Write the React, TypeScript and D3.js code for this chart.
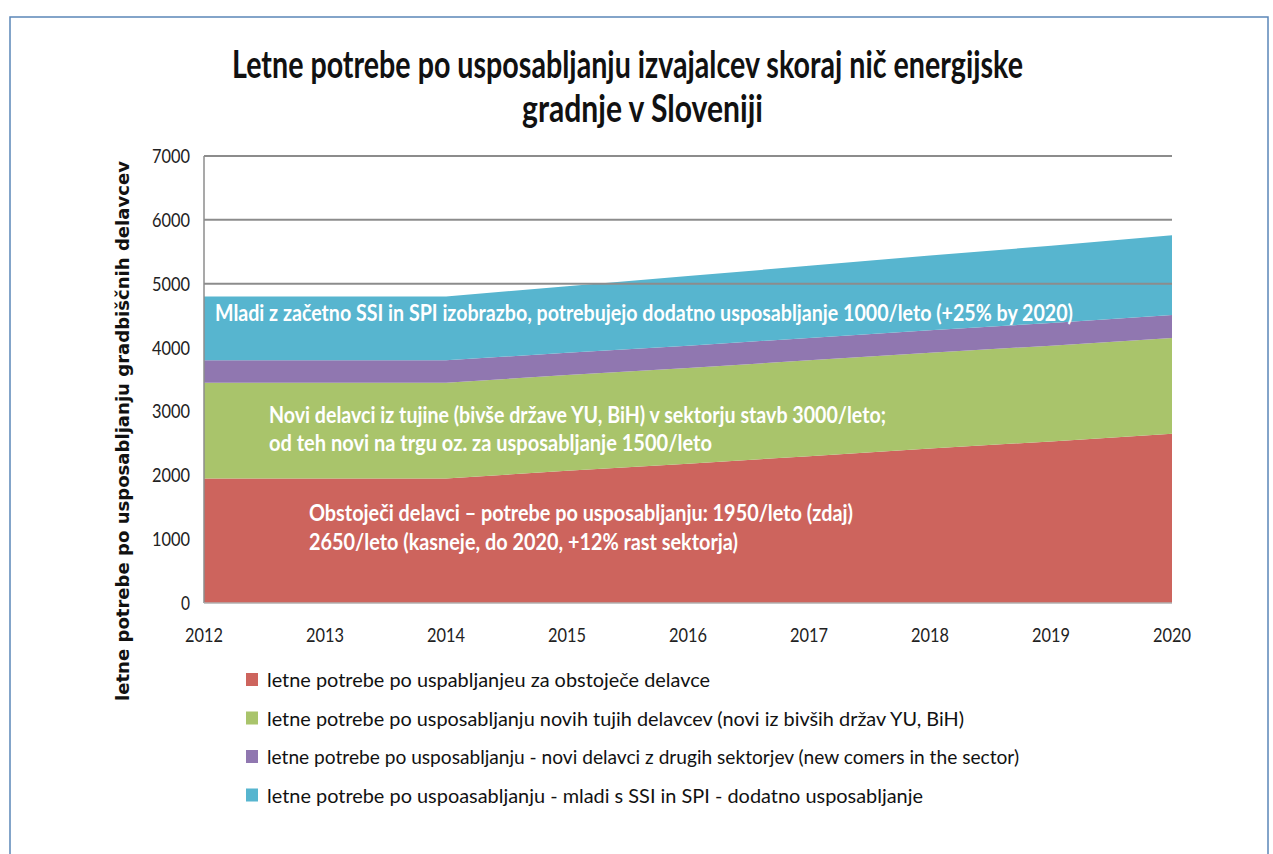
import React from "react";
import * as d3 from "d3";

const years = [2012, 2013, 2014, 2015, 2016, 2017, 2018, 2019, 2020];
const obstojeci = [1950, 1950, 1950, 2070, 2180, 2300, 2420, 2530, 2650];
const tujci = [1500, 1500, 1500, 1500, 1500, 1500, 1500, 1500, 1500];
const drugiSektorji = [350, 350, 350, 350, 350, 350, 350, 355, 360];
const mladi = [1000, 1000, 1000, 1040, 1090, 1130, 1170, 1210, 1250];
const yTicks = [0, 1000, 2000, 3000, 4000, 5000, 6000, 7000];
const gridTicks = [5000, 6000, 7000];

const seriesKeys = ["obstojeci", "tujci", "drugi", "mladi"];
const seriesColors = ["#CD645D", "#A9C46B", "#9077B0", "#57B5CF"];
const legendLabels = [
  "letne potrebe po uspabljanjeu za obstoječe delavce",
  "letne potrebe po usposabljanju novih tujih delavcev (novi iz bivših držav YU, BiH)",
  "letne potrebe po usposabljanju - novi delavci z drugih sektorjev (new comers in the sector)",
  "letne potrebe po uspoasabljanju  - mladi s SSI in SPI - dodatno usposabljanje",
];
const legendWidths = [443, 697, 752, 656];

const titleLines = [
  "Letne potrebe po usposabljanju izvajalcev skoraj nič energijske",
  "gradnje v Sloveniji",
];
const yAxisTitle = "letne potrebe po usposabljanju gradbiščnih delavcev";

const notes = [
  { text: "Mladi z začetno SSI in SPI izobrazbo, potrebujejo dodatno usposabljanje 1000/leto (+25% by 2020)", x: 215, y: 321, w: 858 },
  { text: "Novi delavci iz tujine (bivše države YU, BiH) v sektorju stavb 3000/leto;", x: 269, y: 423, w: 617 },
  { text: "od teh novi na trgu oz.  za usposabljanje 1500/leto", x: 269, y: 451, w: 443 },
  { text: "Obstoječi delavci – potrebe po usposabljanju: 1950/leto (zdaj)", x: 309, y: 521, w: 544 },
  { text: "2650/leto  (kasneje, do 2020, +12% rast sektorja)", x: 309, y: 550, w: 429 },
];

const FONT = "Lato, 'Open Sans', sans-serif";

export default function App() {
  const left = 204, right = 1172, top = 156, bottom = 603;
  const x = d3.scaleLinear().domain([2012, 2020]).range([left, right]);
  const y = d3.scaleLinear().domain([0, 7000]).range([bottom, top]);

  const table = years.map((yr, i) => ({
    year: yr,
    obstojeci: obstojeci[i],
    tujci: tujci[i],
    drugi: drugiSektorji[i],
    mladi: mladi[i],
  }));
  const stacked = d3.stack<any>().keys(seriesKeys)(table);
  const area = d3
    .area<any>()
    .x((d) => x(d.data.year))
    .y0((d) => y(d[0]))
    .y1((d) => y(d[1]))
    .curve(d3.curveLinear);

  return (
    <svg
      width={1273}
      height={854}
      style={{ position: "absolute", left: 0, top: 0, background: "#fff" }}
    >
      <rect x={0} y={0} width={1273} height={854} fill="#fff" />
      <rect x={10} y={17} width={1258} height={860} fill="none" stroke="#5B86B8" strokeWidth={1.5} />

      {titleLines.map((t, i) => (
        <text
          key={i}
          x={i === 0 ? 232 : 522}
          y={i === 0 ? 78 : 122}
          fontFamily={FONT}
          fontWeight={700}
          fontSize={38}
          textLength={i === 0 ? 791 : 241}
          lengthAdjust="spacingAndGlyphs"
          fill="#111"
        >
          {t}
        </text>
      ))}

      {stacked.map((s, i) => (
        <path key={s.key} d={area(s as any) || ""} fill={seriesColors[i]} />
      ))}

      {gridTicks.map((t) => (
        <line key={t} x1={left} x2={right} y1={y(t)} y2={y(t)} stroke="#8C8C8C" strokeWidth={2} />
      ))}
      <line x1={left} x2={left} y1={top} y2={bottom} stroke="#8C8C8C" strokeWidth={1.5} />
      <line x1={left} x2={right} y1={bottom} y2={bottom} stroke="#B0B0B0" strokeWidth={1.5} />

      {yTicks.map((t) => (
        <text
          key={t}
          x={190}
          y={y(t) + 7}
          textAnchor="end"
          fontFamily={FONT}
          fontSize={19}
          fill="#222"
          textLength={t === 0 ? 9 : 38}
          lengthAdjust="spacingAndGlyphs"
        >
          {t}
        </text>
      ))}
      {years.map((yr) => (
        <text
          key={yr}
          x={x(yr)}
          y={642}
          textAnchor="middle"
          fontFamily={FONT}
          fontSize={19}
          fill="#222"
          textLength={38}
          lengthAdjust="spacingAndGlyphs"
        >
          {yr}
        </text>
      ))}

      <text
        transform="translate(129,431) rotate(-90)"
        textAnchor="middle"
        fontFamily="'DejaVu Sans', Verdana, sans-serif"
        fontWeight={700}
        fontSize={17}
        textLength={540}
        lengthAdjust="spacingAndGlyphs"
        fill="#111"
      >
        {yAxisTitle}
      </text>

      {notes.map((n, i) => (
        <text
          key={i}
          x={n.x}
          y={n.y}
          fontFamily={FONT}
          fontWeight={700}
          fontSize={22}
          textLength={n.w}
          lengthAdjust="spacingAndGlyphs"
          fill="#fff"
        >
          {n.text}
        </text>
      ))}

      {legendLabels.map((l, i) => (
        <g key={i} transform={`translate(0, ${680 + i * 38.5})`}>
          <rect x={246} y={-7} width={12} height={13} fill={seriesColors[i]} />
          <text
            x={267}
            y={7}
            fontFamily={FONT}
            fontSize={19}
            textLength={legendWidths[i]}
            lengthAdjust="spacingAndGlyphs"
            fill="#111"
          >
            {l}
          </text>
        </g>
      ))}
    </svg>
  );
}
